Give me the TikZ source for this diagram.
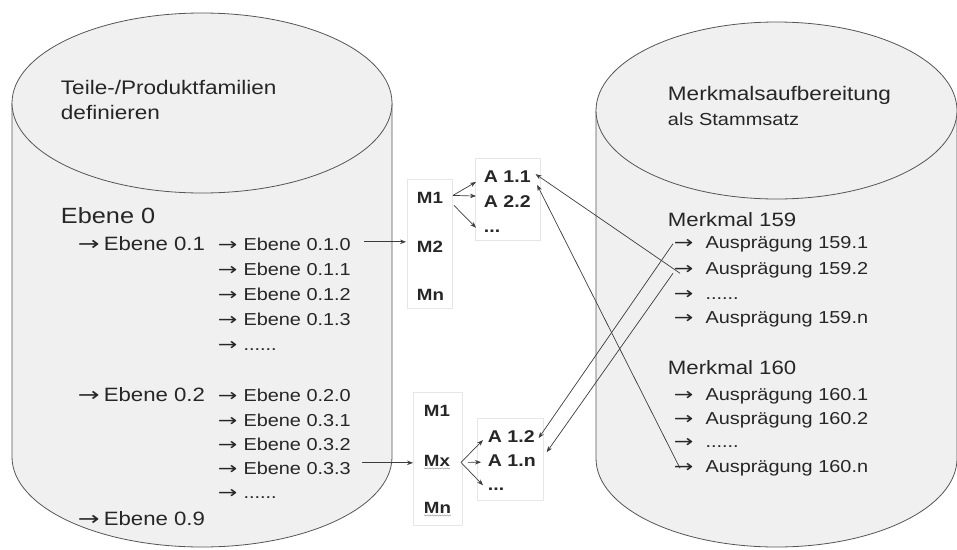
\documentclass[tikz,border=0pt]{standalone}
\usepackage{fontspec}
\setmainfont[FakeStretch=1.15]{Liberation Sans}
\newfontfamily\arrowfont[FakeStretch=1.35]{DejaVu Sans}
\newcommand{\pfeil}[1]{{\arrowfont →}\hspace{#1}}
\usetikzlibrary{calc,arrows.meta,decorations.pathmorphing}

\definecolor{cylfill}{RGB}{240,240,240}
\definecolor{cylline}{RGB}{85,85,85}
\definecolor{txtgray}{RGB}{38,38,38}
\definecolor{boxline}{RGB}{230,230,230}
\definecolor{connline}{RGB}{60,60,60}

\begin{document}
\begin{tikzpicture}[x=1pt,y=1pt,yscale=-1,xscale=1,
  cyl/.style={draw=cylline, fill=cylfill, line width=0.8pt},
  mbox/.style={draw=boxline, line width=0.6pt},
  conn/.style={draw=connline, line width=0.7pt, -{Stealth[length=6pt,width=4.5pt]}},
  wavy/.style={draw=black!40, line width=0.5pt, decorate, decoration={snake, amplitude=0.6pt, segment length=2.5pt}},
  txt/.style={anchor=base west, inner sep=0.75pt, text=txtgray},
  headfont/.style={font=\fontsize{19.6}{23}\selectfont},
  subfont/.style={font=\fontsize{17.4}{20}\selectfont},
  bigfont/.style={font=\fontsize{22}{26}\selectfont},
  midfont/.style={font=\fontsize{19.3}{23}\selectfont},
  smallfont/.style={font=\fontsize{17.3}{20}\selectfont},
  mfont/.style={font=\bfseries\fontsize{16.3}{19}\selectfont},
  afont/.style={font=\bfseries\fontsize{17}{20}\selectfont}]
\useasboundingbox (0,0) rectangle (957,549);

%Shape: Can [left]
\draw [cyl] (12,103) -- (12,457) arc[start angle=180, end angle=0, x radius=190, y radius=90] -- (392,103) ;
\draw [cyl] (202,103) ellipse [x radius=190, y radius=90] ;
%Shape: Can [right]
\draw [cyl] (596,110.5) -- (596,458.5) arc[start angle=180, end angle=0, x radius=180.5, y radius=88.5] -- (957,110.5) ;
\draw [cyl] (776.5,110.5) ellipse [x radius=180.5, y radius=88.5] ;

%Shape: Rectangle [M / A boxes]
\draw [mbox] (407,179) rectangle (452,308) ;
\draw [mbox] (475,158) rectangle (540,240) ;
\draw [mbox] (413,392) rectangle (462,525) ;
\draw [mbox] (477,418) rectangle (543,500) ;

% Text Node
\draw (60,94.5) node (tit1) [txt,headfont] {Teile-/Produktfamilien};
\draw (60,119) node (tit2) [txt,headfont] {definieren};
\draw (60,223) node (e0) [txt,bigfont] {Ebene 0};
\draw (77,250) node (e01) [txt,midfont] {\pfeil{4pt}Ebene 0.1};
\draw (77,401) node (e02) [txt,midfont] {\pfeil{4pt}Ebene 0.2};
\draw (77,525) node (e09) [txt,midfont] {\pfeil{4pt}Ebene 0.9};
% Text Node
\draw (217,250) node (e010) [txt,smallfont] {\pfeil{6pt}Ebene 0.1.0};
\draw (217,275) node (e011) [txt,smallfont] {\pfeil{6pt}Ebene 0.1.1};
\draw (217,300) node (e012) [txt,smallfont] {\pfeil{6pt}Ebene 0.1.2};
\draw (217,325) node (e013) [txt,smallfont] {\pfeil{6pt}Ebene 0.1.3};
\draw (217,350) node (e01x) [txt,smallfont] {\pfeil{6pt}......};
\draw (217,401) node (e020) [txt,smallfont] {\pfeil{6pt}Ebene 0.2.0};
\draw (217,426) node (e031) [txt,smallfont] {\pfeil{6pt}Ebene 0.3.1};
\draw (217,450) node (e032) [txt,smallfont] {\pfeil{6pt}Ebene 0.3.2};
\draw (217,474) node (e033) [txt,smallfont] {\pfeil{6pt}Ebene 0.3.3};
\draw (217,498) node (e03x) [txt,smallfont] {\pfeil{6pt}......};

% Text Node
\draw (416,203) node (ma1) [txt,mfont] {M1};
\draw (416,252) node (ma2) [txt,mfont] {M2};
\draw (416,300) node (man) [txt,mfont] {Mn};
\draw (483,182) node (a11) [txt,afont] {A 1.1};
\draw (483,207) node (a22) [txt,afont] {A 2.2};
\draw (483,232) node (adots1) [txt,afont] {...};
\draw (423,416) node (mb1) [txt,mfont] {M1};
\draw (423,466) node (mbx) [txt,mfont] {Mx};
\draw (423,513) node (mbn) [txt,mfont] {Mn};
\draw (487,442) node (a12) [txt,afont] {A 1.2};
\draw (487,466) node (a1n) [txt,afont] {A 1.n};
\draw (487,490) node (adots2) [txt,afont] {...};

% Text Node
\draw (667,100.5) node (tit3) [txt,headfont] {Merkmalsaufbereitung};
\draw (667,125) node (tit4) [txt,subfont] {als Stammsatz};
\draw (667,226.5) node (mk159) [txt,midfont] {Merkmal 159};
\draw (673,248) node (au1591) [txt,smallfont] {\pfeil{12pt}Ausprägung 159.1};
\draw (673,274) node (au1592) [txt,smallfont] {\pfeil{12pt}Ausprägung 159.2};
\draw (673,299) node (au159x) [txt,smallfont] {\pfeil{12pt}......};
\draw (673,323) node (au159n) [txt,smallfont] {\pfeil{12pt}Ausprägung 159.n};
\draw (667,374) node (mk160) [txt,midfont] {Merkmal 160};
\draw (673,400) node (au1601) [txt,smallfont] {\pfeil{12pt}Ausprägung 160.1};
\draw (673,424) node (au1602) [txt,smallfont] {\pfeil{12pt}Ausprägung 160.2};
\draw (673,447) node (au160x) [txt,smallfont] {\pfeil{12pt}......};
\draw (673,472) node (au160n) [txt,smallfont] {\pfeil{12pt}Ausprägung 160.n};

%Wavy underline
\draw [wavy] ($(mbx.south west)+(1,1.5)$) -- ($(mbx.south east)+(-1,1.5)$) ;
\draw [wavy] ($(mbn.south west)+(1,1.5)$) -- ($(mbn.south east)+(-1,1.5)$) ;

%Straight Lines [Ebene -> M]
\draw [conn] ($(e010.east)+(12,-2)$) -- ($(e010.east -| ma2.west)+(-10,-2)$) ;
\draw [conn] ($(e033.east)+(10,-5)$) -- ($(e033.east -| mbx.west)+(-10,-5)$) ;
%Straight Lines [M -> A]
\draw [conn] ($(ma1.east)+(9,-2)$) -- ($(a11.south west)+(-7,-1)$) ;
\draw [conn] ($(ma1.east)+(9,-2)$) -- ($(a22.west)+(-7,-5)$) ;
\draw [conn] ($(ma1.east)+(10,8)$) -- ($(adots1.west)+(-7,-3)$) ;
\draw [conn] ($(mbx.east)+(10,2)$) -- ($(a12.west)+(-4,4)$) ;
\draw [conn] ($(mbx.east)+(17,2)$) -- ($(a1n.west)+(-6,2)$) ;
\draw [conn] ($(mbx.east)+(10,2)$) -- ($(adots2.west)+(-4,-3.5)$) ;
%Straight Lines [Auspraegung -> A]
\draw [conn] ($(au1592.west)+(7,3.5)$) -- ($(a11.east)+(4,-2)$) ;
\draw [conn] ($(au160n.west)+(7,0.5)$) -- ($(a11.south east)+(5.5,2)$) ;
\draw [conn] (au1591.west) -- ($(a12.east)+(3,2)$) ;
\draw [conn] ($(au1592.west)+(0,3.5)$) -- ($(a1n.east)+(10,-8)$) ;

\end{tikzpicture}
\end{document}
